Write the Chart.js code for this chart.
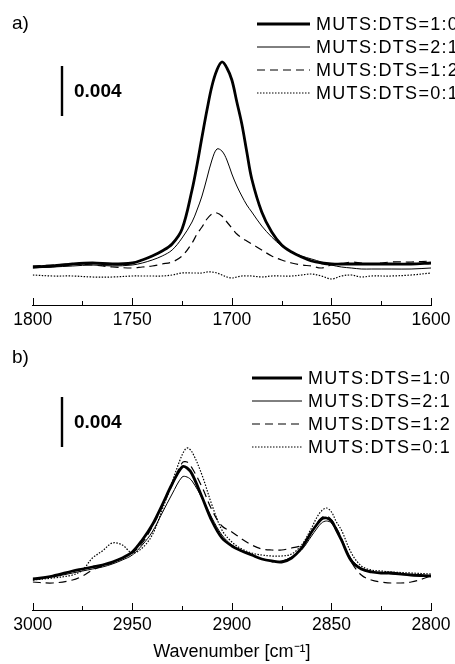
<!DOCTYPE html>
<html>
<head>
<meta charset="utf-8">
<script src="https://cdn.jsdelivr.net/npm/chart.js@4.4.1/dist/chart.umd.min.js"></script>
<style>
  html, body { margin: 0; padding: 0; background: #fff; }
  #wrap { position: relative; width: 455px; height: 664px; overflow: hidden; }
  canvas { position: absolute; left: 0; }
</style>
</head>
<body>
<div id="wrap">
  <canvas id="chartA" width="455" height="332" style="top:0"></canvas>
  <canvas id="chartB" width="455" height="332" style="top:332px"></canvas>
</div>
<script>
// Legendentexte
const seriesLabels = ['MUTS:DTS=1:0', 'MUTS:DTS=2:1', 'MUTS:DTS=1:2', 'MUTS:DTS=0:1'];

// a) C=O Bereich, Wellenzahl [cm-1] und Absorbanz
const wnA = [1800, 1790, 1780, 1770, 1760, 1750, 1745, 1740, 1735, 1730, 1725, 1720, 1717.5, 1715, 1712.5,
  1710, 1707.5, 1705, 1702.5, 1700, 1697.5, 1695, 1692.5, 1690, 1685, 1680, 1675, 1670, 1665, 1660, 1655,
  1650, 1645, 1640, 1635, 1630, 1620, 1610, 1600];
const a10 = [0.00024, 0.00032, 0.00048, 0.00056, 0.00048, 0.00056, 0.0008, 0.00112, 0.00152, 0.00208, 0.00328,
  0.0064, 0.0084, 0.01064, 0.0128, 0.01472, 0.016, 0.01664, 0.01616, 0.0152, 0.01344, 0.01168, 0.00944,
  0.00728, 0.00464, 0.00304, 0.002, 0.00144, 0.00104, 0.00072, 0.00056, 0.00048, 0.00048, 0.00048, 0.00048,
  0.00048, 0.00048, 0.00048, 0.00056];
const a21 = [0.00016, 0.00024, 0.00032, 0.0004, 0.00032, 0.0004, 0.00056, 0.0008, 0.00112, 0.0016, 0.00256,
  0.00384, 0.0048, 0.00592, 0.00736, 0.0088, 0.00968, 0.00952, 0.0088, 0.00768, 0.00672, 0.00592, 0.0052,
  0.00464, 0.00352, 0.00264, 0.00192, 0.00144, 0.00112, 0.00088, 0.00064, 0.0004, 0.00024, 0.00016, 0.00008,
  0.00008, 0.00008, 0.00008, 0.00016];
const a12 = [0.00032, 0.0004, 0.00048, 0.0004, 0.00024, 0.00016, 0.00024, 0.00032, 0.00048, 0.00064, 0.00112,
  0.00216, 0.00288, 0.00344, 0.00408, 0.00448, 0.00456, 0.00432, 0.00384, 0.00336, 0.00288, 0.00256, 0.00232,
  0.00208, 0.0016, 0.00112, 0.0008, 0.00056, 0.0004, 0.00032, 0.00016, 0.0004, 0.00048, 0.00064, 0.00056,
  0.00048, 0.00064, 0.00064, 0.00072];
const a01 = [-0.0004, -0.00048, -0.00048, -0.00056, -0.00056, -0.00048, -0.00048, -0.00048, -0.00048, -0.0004,
  -0.00024, -0.00024, -0.00024, -0.00024, -0.00016, -0.00016, -0.00024, -0.0004, -0.00056, -0.00064, -0.00056,
  -0.00048, -0.00048, -0.00048, -0.00056, -0.00048, -0.00048, -0.00048, -0.0004, -0.00032, -0.00048, -0.00072,
  -0.00048, -0.0004, -0.00056, -0.00048, -0.00048, -0.0004, -0.00024];

// b) C-H Bereich
const wnB = [3000, 2990, 2980, 2975, 2970, 2965, 2960, 2955, 2950, 2945, 2940, 2935, 2930, 2925, 2922.5, 2920,
  2915, 2910, 2905, 2900, 2895, 2890, 2885, 2880, 2875, 2870, 2865, 2860, 2857.5, 2855, 2852.5, 2850, 2847.5,
  2845, 2840, 2835, 2830, 2825, 2820, 2810, 2800];
const b10 = [0.00008, 0.00032, 0.00072, 0.00088, 0.00104, 0.0012, 0.00144, 0.00176, 0.00224, 0.0032, 0.0044,
  0.006, 0.00768, 0.00904, 0.00896, 0.00848, 0.00664, 0.00472, 0.00336, 0.00272, 0.00232, 0.002, 0.00168,
  0.00152, 0.00144, 0.00176, 0.00256, 0.00384, 0.0044, 0.00488, 0.00496, 0.00472, 0.004, 0.0032, 0.00152,
  0.00088, 0.00064, 0.00056, 0.00056, 0.0004, 0.00032];
const b21 = [0, 0.00024, 0.00056, 0.00072, 0.00088, 0.00104, 0.00128, 0.0016, 0.002, 0.0028, 0.00384, 0.00536,
  0.00688, 0.00824, 0.00824, 0.00792, 0.00656, 0.00496, 0.0036, 0.0028, 0.00232, 0.002, 0.00168, 0.00152,
  0.00152, 0.00184, 0.0024, 0.00352, 0.00408, 0.00456, 0.00472, 0.00456, 0.00392, 0.0032, 0.00168, 0.00096,
  0.00072, 0.00056, 0.00048, 0.0004, 0.00032];
const b12 = [-0.00016, -0.00024, 0, 0.00032, 0.0008, 0.00112, 0.00136, 0.00176, 0.00216, 0.00296, 0.00424,
  0.00584, 0.0076, 0.00936, 0.00944, 0.00896, 0.00744, 0.0056, 0.00432, 0.00384, 0.00328, 0.0028, 0.00248,
  0.0024, 0.0024, 0.00256, 0.0028, 0.00384, 0.00448, 0.00496, 0.00512, 0.0048, 0.00416, 0.00336, 0.00144,
  0.0004, 0, -0.00016, -0.00024, -0.00016, 0.00032];
const b01 = [0, 0.00016, 0.0004, 0.0008, 0.00176, 0.00232, 0.00296, 0.0028, 0.00216, 0.00256, 0.0036, 0.0056,
  0.00784, 0.01, 0.01056, 0.01024, 0.0084, 0.006, 0.004, 0.00304, 0.00248, 0.00216, 0.002, 0.00192, 0.00192,
  0.00208, 0.0028, 0.00416, 0.00496, 0.00552, 0.00576, 0.00544, 0.00464, 0.004, 0.00216, 0.00112, 0.0008,
  0.00072, 0.00064, 0.00056, 0.00048];

const scaleBarValue = 0.004;

const FONT = "'Liberation Sans', Arial, Helvetica, sans-serif";
const lineStyles = [
  { width: 2.8, dash: [] },
  { width: 1, dash: [] },
  { width: 1.2, dash: [8, 5] },
  { width: 1.2, dash: [1.5, 1.5] }
];

function makeDatasets(wn, seriesList) {
  return seriesList.map((vals, i) => ({
    label: seriesLabels[i],
    data: wn.map((x, k) => ({ x: x, y: vals[k] })),
    borderColor: '#000',
    borderWidth: lineStyles[i].width,
    borderDash: lineStyles[i].dash,
    pointRadius: 0,
    fill: false,
    tension: 0.35
  }));
}

function drawSpaced(ctx, text, x, y, spacing) {
  let cx = x;
  for (const ch of text) {
    ctx.fillText(ch, cx, y);
    cx += ctx.measureText(ch).width + spacing;
  }
}

// Beschriftung, Massstab, Legende und nach innen zeigende Ticks
const decorPlugin = {
  id: 'decor',
  afterDraw(chart) {
    const o = chart.options.plugins.decor;
    const ctx = chart.ctx;
    const xs = chart.scales.x, ys = chart.scales.y;
    ctx.save();
    ctx.fillStyle = '#000';
    ctx.strokeStyle = '#000';

    // Ticks
    const axisY = xs.top;
    xs.ticks.forEach(t => {
      const px = xs.getPixelForValue(t.value);
      const major = Math.round(t.value) % 50 === 0;
      ctx.lineWidth = 1;
      ctx.beginPath();
      ctx.moveTo(Math.round(px) + 0.5, axisY);
      ctx.lineTo(Math.round(px) + 0.5, axisY - (major ? 7 : 4));
      ctx.stroke();
    });

    // Panel-Buchstabe
    ctx.font = '19px ' + FONT;
    ctx.textBaseline = 'middle';
    ctx.textAlign = 'left';
    ctx.fillText(o.panel, 12, o.panelY);

    // Massstab
    const y0 = ys.getPixelForValue(o.barBase);
    const y1 = ys.getPixelForValue(o.barBase + scaleBarValue);
    ctx.lineWidth = 2.4;
    ctx.beginPath();
    ctx.moveTo(o.barX, y0);
    ctx.lineTo(o.barX, y1);
    ctx.stroke();
    ctx.font = 'bold 19px ' + FONT;
    ctx.fillText(String(scaleBarValue), o.barX + 12, (y0 + y1) / 2 + 1);

    // Legende
    ctx.font = '18px ' + FONT;
    chart.data.datasets.forEach((ds, i) => {
      const ly = o.legendY + i * 23;
      ctx.lineWidth = ds.borderWidth;
      ctx.setLineDash(ds.borderDash);
      ctx.beginPath();
      ctx.moveTo(o.legendX, ly);
      ctx.lineTo(o.legendX + o.legendLen, ly);
      ctx.stroke();
      ctx.setLineDash([]);
      drawSpaced(ctx, ds.label, o.legendX + o.legendLen + 6, ly + 1, 1.3);
    });
    ctx.restore();
  }
};

function makeChart(id, wn, seriesList, xmin, xmax, ymin, ymax, axisH, title, decor) {
  const ctx = document.getElementById(id).getContext('2d');
  return new Chart(ctx, {
    type: 'line',
    data: { datasets: makeDatasets(wn, seriesList) },
    plugins: [decorPlugin],
    options: {
      responsive: false,
      animation: false,
      events: [],
      layout: { padding: { left: 32.7, right: 23.3, top: 5, bottom: 0 } },
      plugins: {
        legend: { display: false },
        tooltip: { enabled: false },
        decor: decor
      },
      scales: {
        x: {
          type: 'linear',
          reverse: true,
          min: xmin,
          max: xmax,
          afterFit: s => { s.height = axisH; },
          grid: { display: false, drawTicks: false },
          border: { display: true, color: '#000', width: 1 },
          ticks: {
            stepSize: 25,
            autoSkip: false,
            maxRotation: 0,
            padding: 4.5,
            color: '#000',
            font: { family: FONT, size: 17.5 },
            callback: v => (v % 50 === 0 ? String(v) : '')
          },
          title: title ? {
            display: true,
            text: title,
            color: '#000',
            font: { family: FONT, size: 18 },
            padding: { top: 0, bottom: 1 }
          } : { display: false }
        },
        y: { display: false, min: ymin, max: ymax }
      }
    }
  });
}

makeChart('chartA', wnA, [a10, a21, a12, a01], 1600, 1800, -0.0028, 0.0212, 27, null,
  { panel: 'a)', panelY: 24, barX: 62, barBase: 0.01232, legendX: 257, legendLen: 53, legendY: 24 });

makeChart('chartB', wnB, [b10, b21, b12, b01], 2800, 3000, -0.0024, 0.01944, 54, 'Wavenumber [cm\u207B\u00B9]',
  { panel: 'b)', panelY: 26, barX: 62, barBase: 0.01064, legendX: 252, legendLen: 50, legendY: 46 });
</script>
</body>
</html>
